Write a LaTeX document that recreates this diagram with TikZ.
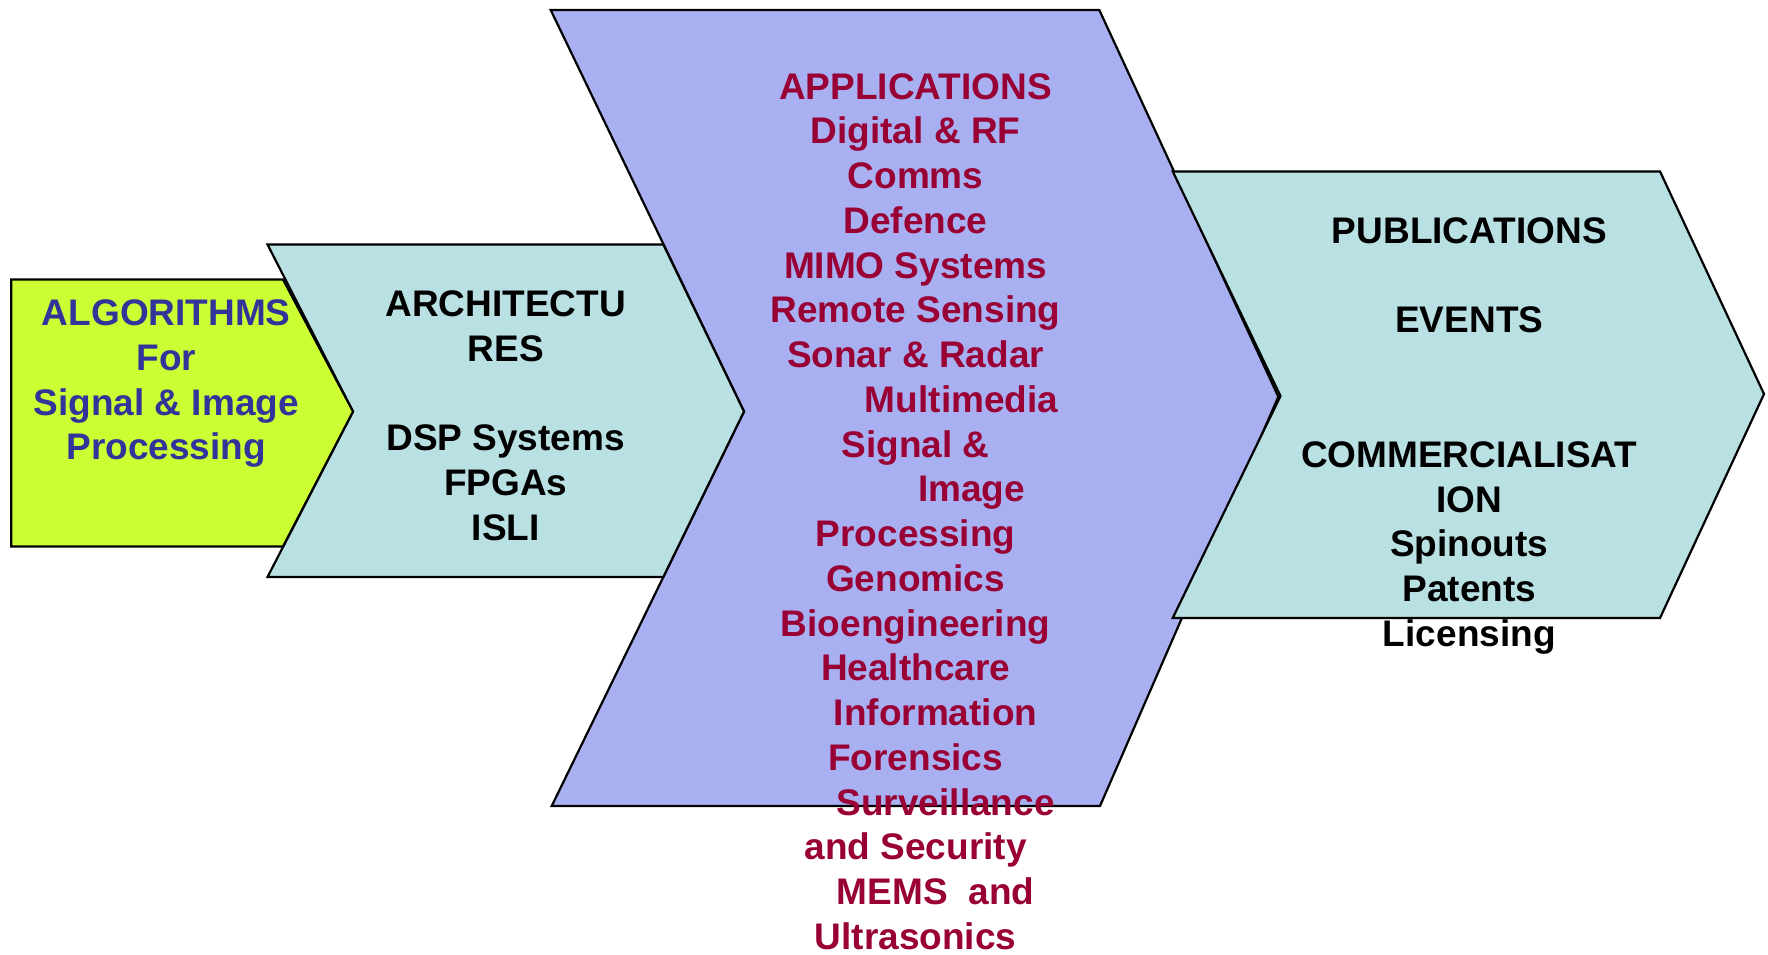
\documentclass[tikz,border=0pt]{standalone}
\usepackage{fontspec}
\setmainfont{Liberation Sans}
\definecolor{limefill}{HTML}{CCFF33}
\definecolor{tealfill}{HTML}{B9E0E3}
\definecolor{purplefill}{HTML}{A9B0F1}
\definecolor{bluetext}{HTML}{333399}
\definecolor{redtext}{HTML}{990033}
\begin{document}
\begin{tikzpicture}[x=1pt,y=-1pt,
  outline/.style={draw=black,line width=2.2pt,line join=miter},
  lbl/.style={anchor=base,inner sep=0pt,font=\fontsize{37}{44.8}\selectfont\bfseries}]
\useasboundingbox (0,0) rectangle (1768,954);
% APPLICATIONS chevron
\path[outline,fill=purplefill] (550.7,10) -- (1099.3,10) -- (1278.3,396.7) -- (1100,806) -- (551.7,806) -- (744,411.5) -- cycle;
% ARCHITECTURES chevron
\path[outline,fill=tealfill] (267.5,244.5) -- (663.3,244.5) -- (744,411.5) -- (663.3,577) -- (267.5,577) -- (353,411.5) -- cycle;
% PUBLICATIONS chevron
\path[outline,fill=tealfill] (1172.7,171.4) -- (1660,171.4) -- (1764,394) -- (1660,618) -- (1172.7,618) -- (1280.5,396) -- cycle;
% ALGORITHMS pentagon
\path[outline,fill=limefill] (11.3,279.5) -- (283,279.5) -- (353,411.5) -- (283,546.5) -- (11.3,546.5) -- cycle;

% ALGORITHMS text
\foreach \t [count=\i from 0] in {ALGORITHMS, For, Signal \& Image, Processing}
  \node[lbl,text=bluetext] (alg\i) at (166.3,325.5+44.8*\i) {\t};

% ARCHITECTURES text
\foreach \t/\k in {ARCHITECTU/0, RES/1, DSP Systems/3, FPGAs/4, ISLI/5}
  \node[lbl,text=black] (arc\k) at (505.7,316.5+44.8*\k) {\t};

% APPLICATIONS text
\foreach \t/\dx [count=\i from 0] in {APPLICATIONS/0, Digital \& RF/0, Comms/0, Defence/0,
    MIMO Systems/0, Remote Sensing/0, Sonar \& Radar/0, Multimedia/46, Signal \&/0,
    Image/56, Processing/0, Genomics/0, Bioengineering/0, Healthcare/0, Information/20,
    Forensics/0, Surveillance/30, and Security/0, MEMS\ \ and/20, Ultrasonics/0}
  \node[lbl,text=redtext] (app\i) at (915.6+\dx,99+44.75*\i) {\t};

% PUBLICATIONS text
\foreach \t/\k in {PUBLICATIONS/0, EVENTS/2, COMMERCIALISAT/5, ION/6, Spinouts/7, Patents/8, Licensing/9}
  \node[lbl,text=black] (pub\k) at (1469.3,243.2+44.8*\k) {\t};
\end{tikzpicture}
\end{document}
